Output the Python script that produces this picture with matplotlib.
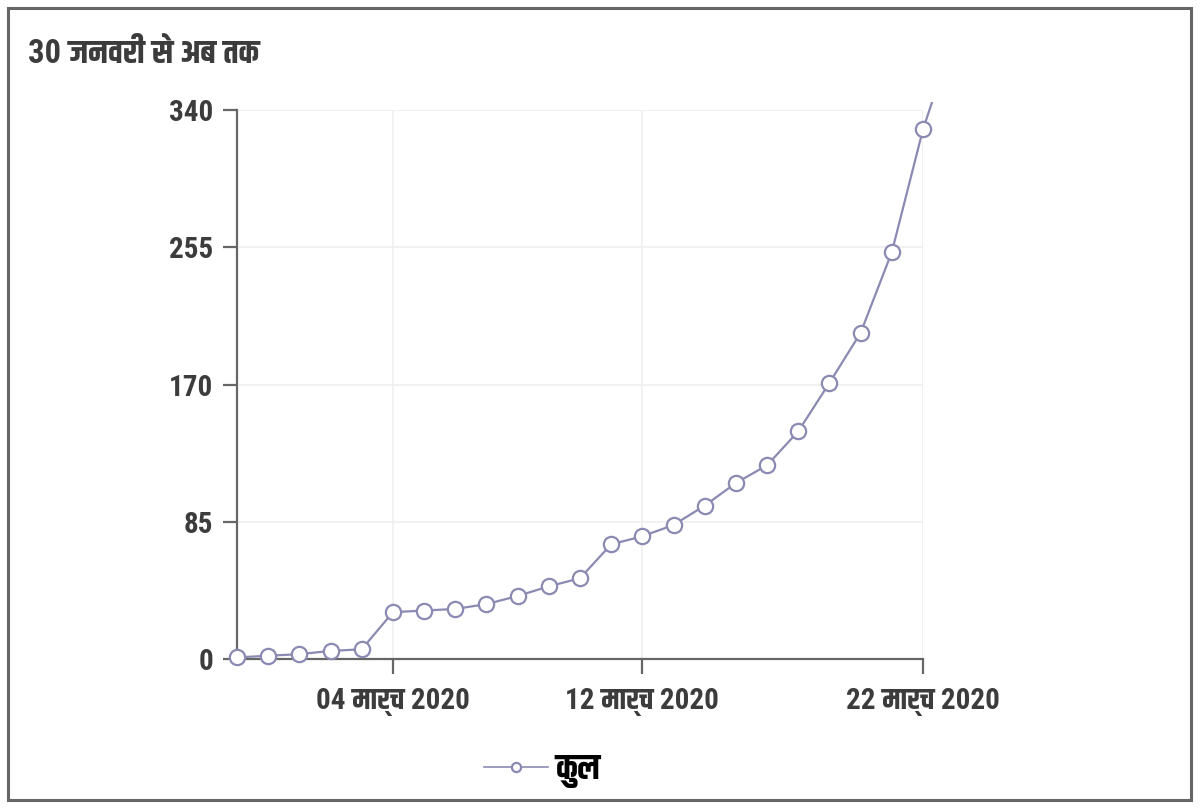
import glob
import matplotlib
matplotlib.use('Agg')
from matplotlib import pyplot as plt
from matplotlib import font_manager as fm
from matplotlib.patches import Rectangle

# make sure the Devanagari / condensed fonts are known to matplotlib
for f in glob.glob('/usr/share/fonts/truetype/google-fonts/Khand-*.ttf') + \
         glob.glob('/usr/share/fonts/truetype/google-fonts/RobotoCondensed*.ttf'):
    try:
        fm.fontManager.addfont(f)
    except Exception:
        pass

plt.rcParams['font.family'] = ['Roboto Condensed', 'Khand', 'DejaVu Sans']

# data: cumulative cases, one point per report (category axis)
day_idx = list(range(24))
total = [1, 2, 3, 5, 6, 29, 30, 31, 34, 39, 45, 50, 71, 76, 83, 95,
         109, 120, 141, 171, 202, 252, 328, 386]
tick_idx = [5, 13, 22]
tick_labels = ['04 मार्च 2020', '12 मार्च 2020', '22 मार्च 2020']
y_ticks = [0, 85, 170, 255, 340]

line_col = '#8a8ab2'
text_col = '#3c3c3c'
axis_col = '#666666'

fig = plt.figure(figsize=(12, 8.1), dpi=100)
ax = fig.add_axes([237 / 1200, 1 - 659 / 810, (923 - 237) / 1200, (659 - 110) / 810])

ln, = ax.plot(day_idx, total, color=line_col, lw=1.6, marker='o', ms=11,
              mfc='white', mec=line_col, mew=1.6, zorder=5, label='कुल')
clip = Rectangle((-0.05, -0.05), 1.1, 1.065, transform=ax.transAxes)
ln.set_clip_path(clip)

ax.set_xlim(0, 22)
ax.set_ylim(0, 340)
ax.set_xticks(tick_idx)
ax.set_xticklabels(tick_labels)
ax.set_yticks(y_ticks)
ax.set_yticklabels([str(v) for v in y_ticks])

for s in ['top', 'right']:
    ax.spines[s].set_visible(False)
for s in ['left', 'bottom']:
    ax.spines[s].set_color(axis_col)
    ax.spines[s].set_linewidth(1.6)

ax.grid(True, color='#f0f0f0', lw=1.3, zorder=0)
ax.set_axisbelow(True)
ax.tick_params(axis='y', length=10, width=1.6, color=axis_col, pad=7,
               labelsize=21, labelcolor=text_col)
ax.tick_params(axis='x', length=11, width=1.6, color=axis_col, pad=10,
               labelsize=21, labelcolor=text_col)
for t in ax.get_xticklabels() + ax.get_yticklabels():
    t.set_fontweight('bold')

fig.text(28 / 1200, 1 - 63 / 810, '30 जनवरी से अब तक', fontsize=23.5,
         fontweight='bold', color=text_col, va='baseline', ha='left')

leg = fig.legend(handles=[ln], loc='center left', bbox_to_anchor=(453 / 1200, 1 - 771 / 810),
                 frameon=False, markerscale=0.6, handlelength=1.85,
                 handletextpad=0.2, prop={'weight': 'bold', 'size': 25})
for t in leg.get_texts():
    t.set_color('black')
for h in leg.legend_handles:
    h.set_linewidth(1.2)

fig.patches.append(Rectangle((8 / 1200, 1 - 800 / 810), 1183 / 1200, 792 / 810,
                             transform=fig.transFigure, fill=False,
                             edgecolor=axis_col, lw=2.2))

fig.savefig('out.png', dpi=100, facecolor='white')
